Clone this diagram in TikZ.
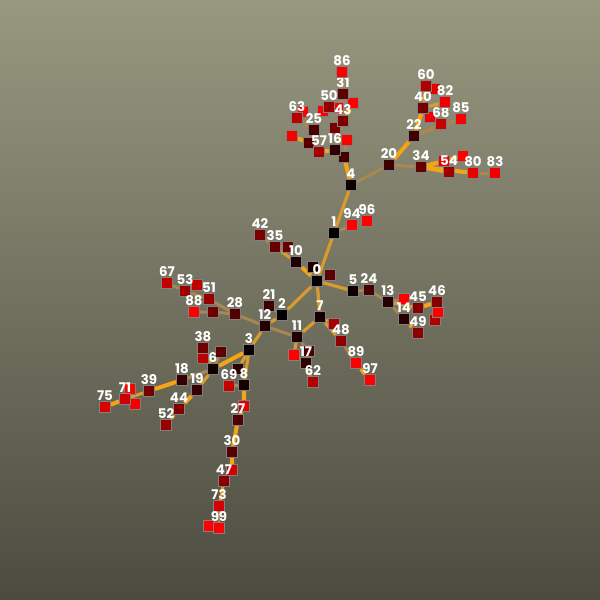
\documentclass[tikz,border=0pt]{standalone}
\usepackage{fontspec}
\setmainfont{Poppins}
\usetikzlibrary{backgrounds}

\definecolor{BgTop}{RGB}{152,152,128}
\definecolor{BgBottom}{RGB}{76,75,64}
\definecolor{EdgeBright}{RGB}{245,165,20}
\definecolor{EdgeMid}{RGB}{218,155,45}
\definecolor{EdgeDull}{RGB}{168,136,78}
\definecolor{NodeRim}{RGB}{128,128,128}

\begin{document}
\begin{tikzpicture}[
  x=0.02cm, y=-0.02cm,
  label distance=0.2pt,
  sq/.style={
    rectangle, draw=NodeRim, line width=0.75pt,
    fill=red!#1!black,
    minimum size=0.21cm, inner sep=0pt,
  },
  lbl/.style={text=white, font=\bfseries\fontsize{7.6}{8}\selectfont, inner sep=0pt},
  bright/.style={draw=EdgeBright, line width=2.3pt},
  mid/.style={draw=EdgeMid, line width=1.8pt},
  dull/.style={draw=EdgeDull, line width=1.7pt},
]
  \useasboundingbox (0,0) rectangle (600,600);

  % vertices whose labels are hidden
  \node[sq=10]  (ua) at (313,267) {};
  \node[sq=17]  (uA) at (238,369) {};
  \node[sq=26]  (ud) at (344,157) {};
  \node[sq=30]  (ux) at (309,351) {};
  \node[sq=33]  (ul) at (309,143) {};
  \node[sq=37]  (ub) at (330,275) {};
  \node[sq=38]  (uy) at (221,352) {};
  \node[sq=41]  (uc) at (288,247) {};
  \node[sq=43]  (uu) at (213,312) {};
  \node[sq=47]  (uf) at (335,128) {};
  \node[sq=67]  (uv) at (334,324) {};
  \node[sq=70]  (us) at (435,320) {};
  \node[sq=74]  (uz) at (203,358) {};
  \node[sq=76]  (ut) at (197,285) {};
  \node[sq=83]  (uE) at (232,470) {};
  \node[sq=89]  (uB) at (244,406) {};
  \node[sq=90]  (um) at (435,89)  {};
  \node[sq=91]  (uo) at (444,161) {};
  \node[sq=93]  (un) at (430,117) {};
  \node[sq=95]  (uD) at (135,404) {};
  \node[sq=97]  (uk) at (292,136) {};
  \node[sq=100] (ue) at (347,140) {};
  \node[sq=100] (ug) at (353,103) {};
  \node[sq=100] (uh) at (323,111) {};
  \node[sq=100] (ui) at (338,108) {};
  \node[sq=100] (uj) at (303,112) {};
  \node[sq=100] (up) at (463,156) {};
  \node[sq=100] (uq) at (404,299) {};
  \node[sq=100] (ur) at (438,312) {};
  \node[sq=100] (uw) at (294,355) {};
  \node[sq=100] (uC) at (130,389) {};
  \node[sq=100] (uF) at (209,526) {};

  % labelled vertices
  \node[sq=24, label={[lbl]above:21}] (n21) at (269,306) {};
  \node[sq=0,  label={[lbl]above:0}]  (n0)  at (317,281) {};
  \node[sq=1,  label={[lbl]above:1}]  (n1)  at (334,233) {};
  \node[sq=2,  label={[lbl]above:2}]  (n2)  at (282,315) {};
  \node[sq=3,  label={[lbl]above:3}]  (n3)  at (249,350) {};
  \node[sq=5,  label={[lbl]above:4}]  (n4)  at (351,185) {};
  \node[sq=6,  label={[lbl]above:5}]  (n5)  at (353,291) {};
  \node[sq=7,  label={[lbl]above:6}]  (n6)  at (213,369) {};
  \node[sq=8,  label={[lbl]above:7}]  (n7)  at (320,317) {};
  \node[sq=9,  label={[lbl]above:8}]  (n8)  at (244,385) {};
  \node[sq=12, label={[lbl]above:10}] (n10) at (296,262) {};
  \node[sq=13, label={[lbl]above:11}] (n11) at (297,337) {};
  \node[sq=14, label={[lbl]above:12}] (n12) at (265,326) {};
  \node[sq=15, label={[lbl]above:13}] (n13) at (388,302) {};
  \node[sq=16, label={[lbl]above:14}] (n14) at (404,319) {};
  \node[sq=18, label={[lbl]above:16}] (n16) at (335,150) {};
  \node[sq=20, label={[lbl]above:17}] (n17) at (306,363) {};
  \node[sq=21, label={[lbl]above:18}] (n18) at (182,380) {};
  \node[sq=22, label={[lbl]above:19}] (n19) at (197,390) {};
  \node[sq=23, label={[lbl]above:20}] (n20) at (389,165) {};
  \node[sq=25, label={[lbl]above:22}] (n22) at (414,136) {};
  \node[sq=28, label={[lbl]above:24}] (n24) at (369,290) {};
  \node[sq=29, label={[lbl]above:25}] (n25) at (314,130) {};
  \node[sq=31, label={[lbl]above:27}] (n27) at (238,420) {};
  \node[sq=32, label={[lbl]above:28}] (n28) at (235,314) {};
  \node[sq=35, label={[lbl]above:30}] (n30) at (232,452) {};
  \node[sq=36, label={[lbl]above:31}] (n31) at (343,94)  {};
  \node[sq=39, label={[lbl]above:34}] (n34) at (421,167) {};
  \node[sq=40, label={[lbl]above:35}] (n35) at (275,247) {};
  \node[sq=44, label={[lbl]above:38}] (n38) at (203,348) {};
  \node[sq=45, label={[lbl]above:39}] (n39) at (149,391) {};
  \node[sq=46, label={[lbl]above:40}] (n40) at (423,108) {};
  \node[sq=48, label={[lbl]above:42}] (n42) at (260,235) {};
  \node[sq=49, label={[lbl]above:43}] (n43) at (343,121) {};
  \node[sq=51, label={[lbl]above:44}] (n44) at (179,409) {};
  \node[sq=52, label={[lbl]above:45}] (n45) at (418,308) {};
  \node[sq=53, label={[lbl]above:46}] (n46) at (437,302) {};
  \node[sq=54, label={[lbl]above:47}] (n47) at (224,481) {};
  \node[sq=55, label={[lbl]above:48}] (n48) at (341,341) {};
  \node[sq=56, label={[lbl]above:49}] (n49) at (418,333) {};
  \node[sq=58, label={[lbl]above:50}] (n50) at (329,107) {};
  \node[sq=59, label={[lbl]above:51}] (n51) at (209,299) {};
  \node[sq=60, label={[lbl]above:52}] (n52) at (166,425) {};
  \node[sq=61, label={[lbl]above:53}] (n53) at (185,291) {};
  \node[sq=62, label={[lbl]above:54}] (n54) at (449,172) {};
  \node[sq=66, label={[lbl]above:57}] (n57) at (319,152) {};
  \node[sq=69, label={[lbl]above:60}] (n60) at (426,86)  {};
  \node[sq=71, label={[lbl]above:62}] (n62) at (313,382) {};
  \node[sq=72, label={[lbl]above:63}] (n63) at (297,118) {};
  \node[sq=77, label={[lbl]above:67}] (n67) at (167,283) {};
  \node[sq=78, label={[lbl]above:68}] (n68) at (441,124) {};
  \node[sq=79, label={[lbl]above:69}] (n69) at (229,386) {};
  \node[sq=82, label={[lbl]above:71}] (n71) at (125,399) {};
  \node[sq=84, label={[lbl]above:73}] (n73) at (219,506) {};
  \node[sq=86, label={[lbl]above:75}] (n75) at (105,407) {};
  \node[sq=92, label={[lbl]above:80}] (n80) at (473,173) {};
  \node[sq=94, label={[lbl]above:82}] (n82) at (445,102) {};
  \node[sq=95, label={[lbl]above:83}] (n83) at (495,173) {};
  \node[sq=98, label={[lbl]above:85}] (n85) at (461,119) {};
  \node[sq=99, label={[lbl]above:86}] (n86) at (342,72)  {};
  \node[sq=100, label={[lbl]above:88}] (n88) at (194,312) {};
  \node[sq=100, label={[lbl]above:89}] (n89) at (356,363) {};
  \node[sq=100, label={[lbl]above:94}] (n94) at (352,225) {};
  \node[sq=100, label={[lbl]above:96}] (n96) at (367,221) {};
  \node[sq=100, label={[lbl]above:97}] (n97) at (370,380) {};
  \node[sq=100, label={[lbl]above:99}] (n99) at (219,528) {};

  \begin{scope}[on background layer]
    \shade[top color=BgTop, bottom color=BgBottom] (0,0) rectangle (600,600);

    % upper branch
    \draw[mid] (n0) -- (n1) -- (n4);
    \draw[dull] (n1) -- (n94);
    \draw[bright] (n4) -- (ud);
    \draw[dull] (ud) -- (n16) (ud) -- (ue) (n16) -- (n43);
    \draw[bright] (n43) -- (ug) (n16) -- (n57) (ul) -- (uk);
    \draw[dull] (n43) -- (n31) -- (n86) (n43) -- (uf) (n43) -- (n50);
    \draw[dull] (n50) -- (uh) (n50) -- (ui);
    \draw[dull] (n57) -- (ul) -- (n25) -- (n63) -- (uj);

    % right upper branch
    \draw[dull] (n4) -- (n20);
    \draw[bright] (n20) -- (n22) -- (n40);
    \draw[mid] (n40) -- (n60) -- (um) (n40) -- (n82) (n40) -- (un);
    \draw[dull] (n22) -- (n68) (n22) -- (n85);
    \draw[dull] (n20) -- (n34);
    \draw[bright] (n34) -- (n54) (n34) -- (n80) (n34) -- (uo) -- (up);
    \draw[dull] (n80) -- (n83);

    % left upper branch
    \draw[bright] (n0) -- (n10);
    \draw[mid] (n10) -- (n35);
    \draw[dull] (n35) -- (n42) (n35) -- (uc);
    \draw[dull] (n0) -- (ua) (n0) -- (ub);

    % right branch
    \draw[mid] (n0) -- (n5);
    \draw[dull] (n5) -- (n24) -- (n13) (n13) -- (uq) (n13) -- (n14);
    \draw[mid] (n13) -- (n45);
    \draw[bright] (n45) -- (n46) -- (ur) (n14) -- (n49);
    \draw[dull] (n46) -- (us);

    % lower middle branch
    \draw[mid] (n0) -- (n2) -- (n12) -- (n3);
    \draw[dull] (n2) -- (n21);
    \draw[dull] (n11) -- (n12) -- (n28) -- (n51) -- (n53) -- (n67);
    \draw[dull] (n53) -- (ut) (n28) -- (uu) -- (n88);
    \draw[mid] (n0) -- (n7) -- (n11) (n7) -- (uv) (n7) -- (n48);
    \draw[dull] (n48) -- (n89);
    \draw[bright] (n89) -- (n97);
    \draw[mid] (n11) -- (uw);
    \draw[dull] (n11) -- (ux) -- (n17) -- (n62);

    % lower left branch
    \draw[bright] (n3) -- (n6);
    \draw[dull] (n6) -- (uy) (n38) -- (uz);
    \draw[mid] (n6) -- (n38) (n3) -- (uA) (n3) -- (n8);
    \draw[dull] (n8) -- (n69);
    \draw[bright] (n8) -- (uB) -- (n27) -- (n30) -- (uE);
    \draw[dull] (uE) -- (n47);
    \draw[mid] (n47) -- (n73);
    \draw[dull] (n73) -- (n99) -- (uF);
    \draw[dull] (n6) -- (n18);
    \draw[bright] (n18) -- (n39) (n71) -- (n75);
    \draw[mid] (n39) -- (n71);
    \draw[dull] (n71) -- (uC) (n71) -- (uD);
    \draw[mid] (n6) -- (n19) (n44) -- (n52);
    \draw[bright] (n19) -- (n44);
  \end{scope}
\end{tikzpicture}
\end{document}
